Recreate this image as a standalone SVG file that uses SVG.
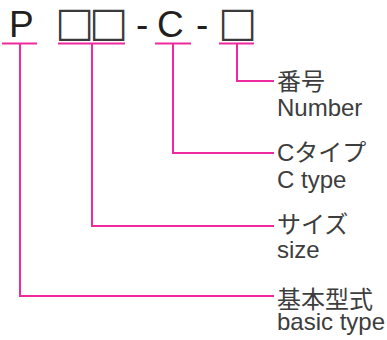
<svg xmlns="http://www.w3.org/2000/svg" width="387" height="340" viewBox="0 0 387 340">
<style>
.big{font-family:"Liberation Sans","Noto Sans CJK JP",sans-serif;font-size:37px;fill:#231f20}
.box{font-family:"DejaVu Sans",sans-serif;font-size:41px;fill:#3a3a3a;text-anchor:middle}
.lbl{font-family:"Liberation Sans","Noto Sans CJK JP",sans-serif;font-size:24px;fill:#3d3d3d}
.ln{fill:none;stroke:#ee2a9c;stroke-width:2}
</style>
<rect width="387" height="340" fill="#fff"/>
<g id="code">
<text class="big" x="9" y="37">P</text>
<text class="box" x="74.5" y="35.6">□︎</text>
<text class="box" x="108.5" y="35.6">□︎</text>
<text class="big" x="136" y="37">-</text>
<text class="big" x="157" y="37">C</text>
<text class="big" x="196" y="37">-</text>
<text class="box" x="237.5" y="35.6">□︎</text>
</g>
<g id="connectors">
<path class="ln" d="M2 43.5H37M20 43.5V296H274"/>
<path class="ln" d="M58 43.5H125M92 43.5V226H274"/>
<path class="ln" d="M155 43.5H191M173 43.5V153H274"/>
<path class="ln" d="M219 43.5H254M237 43.5V81H274"/>
</g>
<g id="number">
<text class="lbl" x="277" y="90">番号</text>
<text class="lbl" x="277" y="116">Number</text>
</g>
<g id="ctype">
<text class="lbl" x="277" y="161">Cタイプ</text>
<text class="lbl" x="277" y="188">C type</text>
</g>
<g id="size">
<text class="lbl" x="277" y="233">サイズ</text>
<text class="lbl" x="277" y="258">size</text>
</g>
<g id="basic">
<text class="lbl" x="277" y="308">基本型式</text>
<text class="lbl" x="277" y="330">basic type</text>
</g>
</svg>
